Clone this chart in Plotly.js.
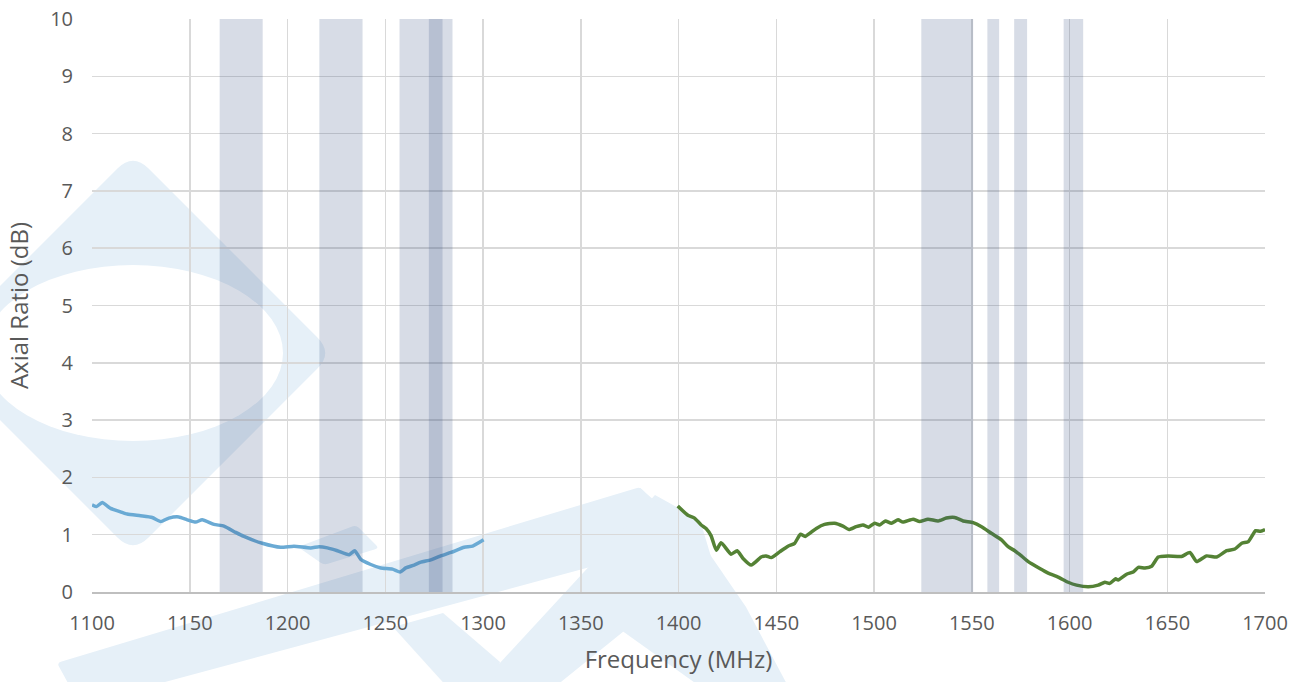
<!DOCTYPE html>
<html><head><meta charset="utf-8">
<script src="https://cdn.plot.ly/plotly-3.0.1.min.js"></script>
<style>html,body{margin:0;padding:0;background:#fff}</style>
</head><body><div id="chart" style="width:1304px;height:682px"></div>
<script>
// ---- data ----
const blueFreq = [1100,1102.3,1105.2,1109.5,1114.6,1118,1124.8,1130.8,1135.1,1139.3,1144.4,1148.7,1153,1156.4,1162.4,1167.5,1173.5,1177.7,1187.1,1196.5,1203.3,1211.9,1216.1,1220.4,1225.5,1231.5,1234.4,1237.5,1242.6,1247.7,1253.7,1257.6,1260.5,1264.8,1268.2,1273.3,1278.4,1283.6,1290.4,1294.7,1300.3];
const blueAR   = [1.52,1.49,1.56,1.46,1.40,1.36,1.33,1.30,1.23,1.29,1.31,1.26,1.22,1.26,1.18,1.15,1.04,0.97,0.85,0.78,0.80,0.77,0.79,0.77,0.72,0.65,0.72,0.57,0.48,0.42,0.40,0.35,0.42,0.47,0.52,0.56,0.63,0.69,0.78,0.80,0.91];
const greenFreq = [1399.6,1404.8,1408.2,1411.6,1414.1,1416.7,1419.3,1421.8,1426.9,1430,1432.9,1437.2,1442.3,1444.8,1447.4,1451.7,1456,1459.4,1462.4,1464.8,1470.5,1474.7,1479.8,1484.1,1487.2,1490.9,1494.4,1497.2,1500.3,1502.9,1505.8,1508.9,1512.3,1514.8,1520,1523.3,1527.6,1532.8,1537,1541.3,1545.6,1550.7,1555,1560.2,1565.2,1568.6,1572,1575.4,1578.9,1584.8,1589.1,1594.2,1599.3,1603.6,1609.6,1614.7,1618.1,1620.6,1623.6,1624.9,1629.2,1632.6,1635.2,1638.6,1642,1645.4,1650.5,1657.3,1661.6,1665,1670.1,1675.3,1680.4,1684.6,1688.1,1691.5,1695.2,1697.5,1700];
const greenAR   = [1.50,1.34,1.29,1.17,1.11,0.98,0.73,0.86,0.66,0.72,0.59,0.47,0.61,0.63,0.60,0.70,0.80,0.85,1.01,0.97,1.11,1.18,1.20,1.15,1.09,1.14,1.17,1.13,1.20,1.17,1.24,1.20,1.26,1.22,1.27,1.23,1.27,1.24,1.29,1.30,1.24,1.21,1.14,1.02,0.91,0.79,0.72,0.63,0.53,0.41,0.33,0.26,0.17,0.12,0.09,0.12,0.17,0.15,0.23,0.21,0.31,0.35,0.43,0.42,0.45,0.61,0.63,0.62,0.69,0.53,0.63,0.61,0.72,0.75,0.85,0.88,1.07,1.06,1.09];
const bandStart = [1165.3,1216.3,1257.3,1272.3,1524.2,1558,1571.7,1597];
const bandEnd   = [1187.3,1238.4,1279.3,1284.4,1550.7,1564,1578.3,1607];
const xTickVals = [1100,1150,1200,1250,1300,1350,1400,1450,1500,1550,1600,1650,1700];
const yTickVals = [0,1,2,3,4,5,6,7,8,9,10];

// ---- layout geometry ----
const W = 1304, H = 682;
const M = {l:92, r:39, t:19, b:90};
const PW = W - M.l - M.r, PH = H - M.t - M.b;
function P(px, py){ return [(px - M.l)/PW, (H - M.b - py)/PH]; }
function polyPath(pts, r){
  r = r || 0;
  let d = '';
  const n = pts.length;
  if (!r){
    pts.forEach((p,i)=>{ const q=P(p[0],p[1]); d += (i?'L':'M')+q[0]+','+q[1]+' '; });
    return d+'Z';
  }
  for (let i=0;i<n;i++){
    const a=pts[(i-1+n)%n], b=pts[i], c=pts[(i+1)%n];
    const l1=Math.hypot(b[0]-a[0],b[1]-a[1]), l2=Math.hypot(c[0]-b[0],c[1]-b[1]);
    const s=[b[0]+(a[0]-b[0])*r/l1, b[1]+(a[1]-b[1])*r/l1];
    const e=[b[0]+(c[0]-b[0])*r/l2, b[1]+(c[1]-b[1])*r/l2];
    const S=P(s[0],s[1]), B=P(b[0],b[1]), E=P(e[0],e[1]);
    d += (i?'L':'M')+S[0]+','+S[1]+' Q'+B[0]+','+B[1]+' '+E[0]+','+E[1]+' ';
  }
  return d+'Z';
}
const wm = '#e6f0f8';
const shapes = [];
function addWM(pts, r){
  shapes.push({type:'path', xref:'paper', yref:'paper', path:polyPath(pts,r), fillcolor:wm, line:{width:0}, layer:'below'});
}
addWM([[133,153],[333,353],[133,553],[-67,353]], 22);
// hole of the logo
{
  const a=P(133-150,353+88), b=P(133+150,353-88);
  shapes.push({type:'circle', xref:'paper', yref:'paper', x0:a[0], y0:a[1], x1:b[0], y1:b[1], fillcolor:'#ffffff', line:{width:0}, layer:'below'});
}
addWM([[298,547],[356,525],[379,548],[324,565]], 4);
addWM([[57,663],[640,487],[690,540],[80,705]], 4);
addWM([[655,495],[700,520],[712,560],[551,690],[475,690]], 0);
addWM([[393,627],[443,613],[500,662],[492,690],[450,690]], 0);
addWM([[640,488],[700,540],[746,607],[790,690],[705,690],[607,620]], 0);

// frequency bands
for (let i=0;i<bandStart.length;i++){
  shapes.push({type:'rect', xref:'x', yref:'paper', x0:bandStart[i], x1:bandEnd[i], y0:0, y1:1,
    fillcolor:'rgba(55,80,130,0.2)', line:{width:0}, layer:'above'});
}

const font = 'Open Sans, sans-serif';
const traces = [
  {x:blueFreq, y:blueAR, type:'scatter', mode:'lines', line:{color:'#6aaad4', width:3.5, shape:'spline', smoothing:0.5}, hoverinfo:'skip'},
  {x:greenFreq, y:greenAR, type:'scatter', mode:'lines', line:{color:'#548235', width:3.5, shape:'spline', smoothing:0.5}, hoverinfo:'skip'}
];
const layout = {
  width:W, height:H, autosize:false,
  margin:M,
  paper_bgcolor:'#ffffff', plot_bgcolor:'rgba(0,0,0,0)',
  showlegend:false,
  font:{family:font, color:'#595959'},
  xaxis:{range:[1100,1700], tickvals:xTickVals, ticktext:xTickVals.map(String),
    showgrid:true, gridcolor:'#d9d9d9', gridwidth:1.5, zeroline:false,
    showline:true, linecolor:'#bfbfbf', linewidth:2,
    ticks:'', ticklabelstandoff:12, tickfont:{size:20, color:'#595959', family:font},
    title:{text:'Frequency (MHz)', font:{size:24, color:'#595959', family:font}, standoff:16}},
  yaxis:{range:[0,10], tickvals:yTickVals, ticktext:yTickVals.map(String),
    showgrid:true, gridcolor:'#d9d9d9', gridwidth:1.5, zeroline:false, showline:false,
    ticks:'', ticklabelstandoff:18, tickfont:{size:20, color:'#595959', family:font},
    title:{text:'Axial Ratio (dB)', font:{size:24, color:'#595959', family:font}, standoff:14}},
  shapes:shapes
};
Plotly.newPlot('chart', traces, layout, {staticPlot:true, displayModeBar:false});
</script>
</body></html>
